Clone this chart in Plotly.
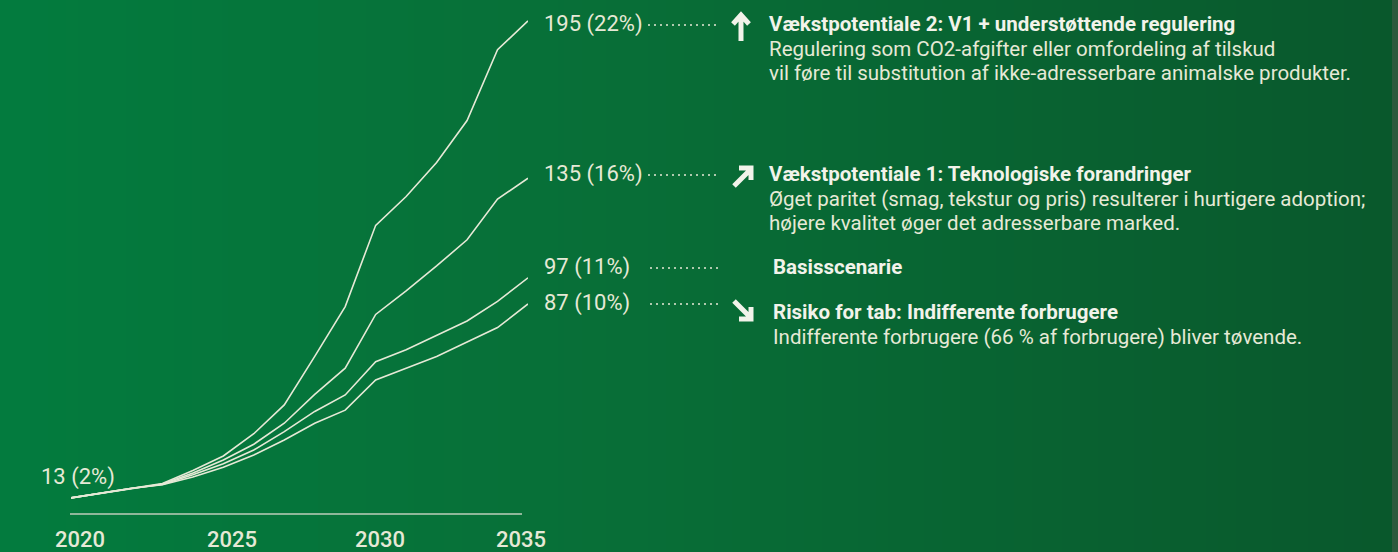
import plotly.graph_objects as go

# ---------------- data ----------------
years = list(range(2020, 2036))
v2_regulering = [13, 14.8, 16.7, 18.5, 23.5, 29, 37.5, 48.5, 67, 86, 117, 128, 141, 157, 184, 195]
v1_teknologi = [13, 14.8, 16.7, 18.3, 22.5, 27.5, 33.5, 41.5, 52.5, 62.5, 83, 92, 101.5, 111.5, 127, 135]
basis = [13, 14.8, 16.7, 18.1, 21.8, 26, 31.3, 38.3, 46, 52.3, 65, 69.5, 75, 80.5, 88, 97]
risiko = [13, 14.8, 16.7, 18.0, 21, 24.7, 29.4, 35.1, 41.5, 46.5, 58, 62.5, 67, 72.5, 78, 87]
series = [v2_regulering, v1_teknologi, basis, risiko]

tick_years = [2020, 2025, 2030, 2035]
tick_text = ["2020", "2025", "2030", "2035"]
start_label = "13 (2%)"
end_labels = ["195 (22%)", "135 (16%)", "97 (11%)", "87 (10%)"]
arrow_dirs = ["up", "upright", None, "downright"]
titles = [
    "Vækstpotentiale 2: V1 + understøttende regulering",
    "Vækstpotentiale 1: Teknologiske forandringer",
    "Basisscenarie",
    "Risiko for tab: Indifferente forbrugere",
]
descriptions = [
    ["Regulering som CO2-afgifter eller omfordeling af tilskud",
     "vil føre til substitution af ikke-adresserbare animalske produkter."],
    ["Øget paritet (smag, tekstur og pris) resulterer i hurtigere adoption;",
     "højere kvalitet øger det adresserbare marked."],
    [],
    ["Indifferente forbrugere (66 % af forbrugere) bliver tøvende."],
]

# ---------------- style / layout ----------------
W, H = 1398, 552
CREAM = "#E6E9D6"
WHITE = "#F2F3EA"
FONT = "Roboto"

def px(x):
    return x / W

def py(y):
    return 1 - y / H

def path(points_list):
    parts = []
    for pts in points_list:
        s = "M %.5f,%.5f" % (px(pts[0][0]), py(pts[0][1]))
        for (a, b) in pts[1:]:
            s += " L %.5f,%.5f" % (px(a), py(b))
        parts.append(s)
    return " ".join(parts)

fig = go.Figure()
for s in series:
    fig.add_trace(go.Scatter(x=years, y=s, mode="lines",
                             line=dict(color=CREAM, width=1.6),
                             hoverinfo="skip", showlegend=False))

shapes = []
# background gradient (horizontal strips)
left_c = (3, 123, 62)
mid_c = (8, 110, 55)
right_c = (9, 88, 44)
step = 6
for x0 in range(0, 1392, step):
    t = x0 / 1392
    if t < 0.45:
        u = t / 0.45
        c = [round(left_c[i] + (mid_c[i] - left_c[i]) * u) for i in range(3)]
    else:
        u = (t - 0.45) / 0.55
        c = [round(mid_c[i] + (right_c[i] - mid_c[i]) * u) for i in range(3)]
    shapes.append(dict(type="rect", xref="paper", yref="paper",
                       x0=px(x0), x1=px(min(x0 + step + 1, 1392)), y0=0, y1=1,
                       fillcolor="rgb(%d,%d,%d)" % tuple(c), line=dict(width=0),
                       layer="below"))
shapes.append(dict(type="rect", xref="paper", yref="paper", x0=px(1392), x1=1,
                   y0=0, y1=1, fillcolor="#2C5A3D", line=dict(width=0), layer="below"))
# baseline
shapes.append(dict(type="line", xref="paper", yref="paper", x0=px(70), x1=px(522),
                   y0=py(514), y1=py(514), line=dict(color="#8FB79A", width=2)))

# leaders
label_y = [24, 174, 267, 303]
leader_x = [(648, 718), (648, 718), (650, 719), (650, 719)]
for (a, b), yy in zip(leader_x, label_y):
    shapes.append(dict(type="line", xref="paper", yref="paper", x0=px(a), x1=px(b),
                       y0=py(yy + 1), y1=py(yy + 1),
                       line=dict(color=CREAM, width=1.3, dash="2px,4px")))

# arrow icons (pixel geometry)
arrow_geom = {
    "up": [[(741, 41), (741, 16)], [(733, 24), (741, 15), (749, 24)]],
    "upright": [[(734, 186), (750, 170)], [(739, 168), (751, 168), (751, 180)]],
    "downright": [[(734, 301), (750, 317)], [(751, 307), (751, 319), (739, 319)]],
}
for d in arrow_dirs:
    if d:
        shapes.append(dict(type="path", xref="paper", yref="paper",
                           path=path(arrow_geom[d]),
                           line=dict(color=WHITE, width=5)))

ann = []
tick_shift = [9, 9, 4, -7]
for tv, tt, sh in zip(tick_years, tick_text, tick_shift):
    ann.append(dict(x=tv, y=py(539), xref="x", yref="paper", text=tt, showarrow=False,
                    xanchor="center", yanchor="middle", xshift=sh,
                    font=dict(family=FONT, size=22, color=CREAM, weight=500)))
ann.append(dict(x=px(39), y=py(477), xref="paper", yref="paper", text=start_label,
                showarrow=False, xanchor="left", yanchor="middle",
                font=dict(family=FONT, size=22, color=CREAM)))

for lab, yy in zip(end_labels, label_y):
    ann.append(dict(x=px(542), y=py(yy), xref="paper", yref="paper", text=lab,
                    showarrow=False, xanchor="left", yanchor="middle",
                    font=dict(family=FONT, size=22, color=CREAM)))

title_x = [767, 767, 771, 771]
title_y = [24, 174, 267, 312]
for i in range(4):
    ann.append(dict(x=px(title_x[i]), y=py(title_y[i]), xref="paper", yref="paper",
                    text="<b>%s</b>" % titles[i], showarrow=False,
                    xanchor="left", yanchor="middle",
                    font=dict(family=FONT, size=20.5, color=WHITE)))
    for j, line in enumerate(descriptions[i]):
        ann.append(dict(x=px(title_x[i]), y=py(title_y[i] + 25 + 24 * j), xref="paper",
                        yref="paper", text=line, showarrow=False,
                        xanchor="left", yanchor="middle",
                        font=dict(family=FONT, size=20.5, color=CREAM)))

fig.update_layout(
    width=W, height=H, margin=dict(l=0, r=0, t=0, b=0),
    paper_bgcolor="#077038", plot_bgcolor="rgba(0,0,0,0)",
    xaxis=dict(domain=[px(71), px(528)], range=[2020, 2035], visible=False, fixedrange=True),
    yaxis=dict(domain=[py(532), py(7.8)], range=[0, 200], visible=False, fixedrange=True),
    shapes=shapes, annotations=ann, showlegend=False,
)

fig.write_html("out.html", config={"displayModeBar": False},
               post_script="document.body.style.margin='0';document.body.style.overflow='hidden';")
